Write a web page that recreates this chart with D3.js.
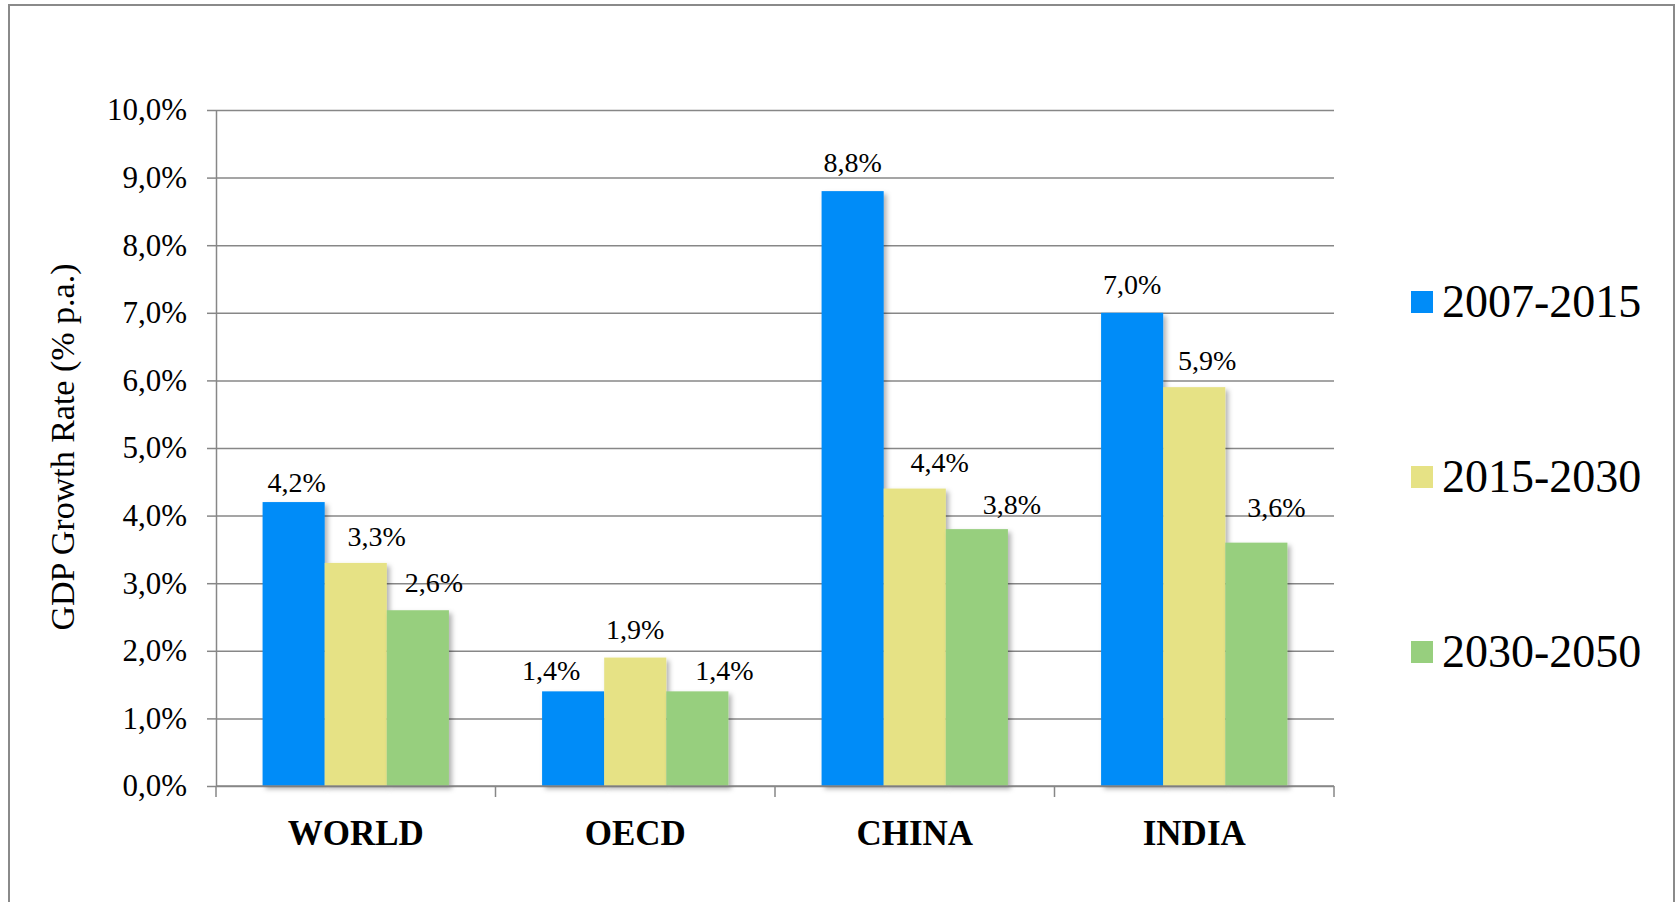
<!DOCTYPE html>
<html>
<head>
<meta charset="utf-8">
<script src="https://cdn.jsdelivr.net/npm/d3@7"></script>
<style>
  html, body { margin: 0; padding: 0; background: #fff; }
  svg { display: block; }
  text { font-family: "Liberation Serif", "DejaVu Serif", serif; fill: #000; }
</style>
</head>
<body>
<svg id="chart" width="1677" height="902"></svg>
<script>
// ---- data ----
const categories = ["WORLD", "OECD", "CHINA", "INDIA"];
const seriesNames = ["2007-2015", "2015-2030", "2030-2050"];
const values2007_2015 = [4.2, 1.4, 8.8, 7.0];
const values2015_2030 = [3.3, 1.9, 4.4, 5.9];
const values2030_2050 = [2.6, 1.4, 3.8, 3.6];
const yTicks = [0, 1, 2, 3, 4, 5, 6, 7, 8, 9, 10];
const yTitle = "GDP Growth Rate (% p.a.)";

// ---- layout / style (not data) ----
const seriesColors = ["#008cf8", "#e6e285", "#97cf7e"];
// manual label nudges as placed in the original slide (px)
const labelNudgeX = [[3, -22, 0, 0], [21, 0, 25, 13], [16, 27, 35, 20]];
const labelGap = [[19, 20, 28, 28], [26, 28, 26, 26], [27, 20, 24, 35]];

const seriesValues = [values2007_2015, values2015_2030, values2030_2050];
const fmt = v => v.toFixed(1).replace(".", ",") + "%";

const svg = d3.select("#chart");
const plot = { left: 216, right: 1334, top: 110, bottom: 786 };

// outer frame
svg.append("rect")
  .attr("x", 9).attr("y", 5).attr("width", 1665).attr("height", 920)
  .attr("fill", "none").attr("stroke", "#8a8a8a").attr("stroke-width", 2);

const defs = svg.append("defs");
const f = defs.append("filter").attr("id", "shadow")
  .attr("x", "-20%").attr("y", "-5%").attr("width", "150%").attr("height", "115%");
f.append("feDropShadow").attr("dx", 3).attr("dy", 3).attr("stdDeviation", 2.5)
  .attr("flood-color", "#000").attr("flood-opacity", 0.3);

const y = d3.scaleLinear().domain([0, 10]).range([plot.bottom, plot.top]);
const x = d3.scaleBand().domain(categories).range([plot.left, plot.right]).padding(0);
const xs = d3.scaleBand().domain(seriesNames).range([0, x.bandwidth()])
  .paddingInner(0).paddingOuter(0.75);

// gridlines
svg.append("g")
  .attr("transform", `translate(${plot.left},0)`)
  .call(d3.axisLeft(y).tickValues(yTicks).tickSize(-(plot.right - plot.left)).tickFormat(""))
  .call(g => g.select(".domain").remove())
  .call(g => g.selectAll("line").attr("stroke", "#878787").attr("stroke-width", 1.5));

// y axis
svg.append("g")
  .attr("transform", `translate(${plot.left},0)`)
  .call(d3.axisLeft(y).tickValues(yTicks).tickSize(9).tickSizeOuter(0).tickPadding(20).tickFormat(fmt))
  .call(g => g.select(".domain").attr("stroke", "#878787").attr("stroke-width", 1.5))
  .call(g => g.selectAll(".tick line").attr("stroke", "#878787").attr("stroke-width", 1.5))
  .call(g => g.selectAll(".tick text")
    .attr("font-family", "Liberation Serif").attr("font-size", 31).attr("fill", "#000"));

// bars
seriesNames.forEach((s, si) => {
  const g = svg.append("g");
  g.selectAll("rect")
    .data(categories.map((c, ci) => ({ c, v: seriesValues[si][ci] })))
    .join("rect")
    .attr("x", d => x(d.c) + xs(s))
    .attr("y", d => y(d.v))
    .attr("width", xs.bandwidth())
    .attr("height", d => y(0) - y(d.v))
    .attr("fill", seriesColors[si])
    .attr("filter", "url(#shadow)");
});

// x axis
svg.append("g")
  .attr("transform", `translate(0,${plot.bottom})`)
  .call(g => g.append("line").attr("x1", plot.left).attr("x2", plot.right)
    .attr("stroke", "#878787").attr("stroke-width", 1.5))
  .call(g => g.selectAll(".sep")
    .data(d3.range(categories.length + 1))
    .join("line")
    .attr("x1", i => plot.left + i * x.step()).attr("x2", i => plot.left + i * x.step())
    .attr("y1", 0).attr("y2", 11)
    .attr("stroke", "#878787").attr("stroke-width", 1.5));

svg.append("g").selectAll("text")
  .data(categories).join("text")
  .attr("x", d => x(d) + x.bandwidth() / 2)
  .attr("y", 845)
  .attr("text-anchor", "middle")
  .attr("font-weight", "bold")
  .attr("font-size", 35)
  .text(d => d);

// data labels
seriesNames.forEach((s, si) => {
  svg.append("g").selectAll("text")
    .data(categories.map((c, ci) => ({ c, ci, v: seriesValues[si][ci] })))
    .join("text")
    .attr("x", d => x(d.c) + xs(s) + xs.bandwidth() / 2 + labelNudgeX[si][d.ci])
    .attr("y", d => y(d.v) - labelGap[si][d.ci] + 9)
    .attr("text-anchor", "middle")
    .attr("font-size", 28)
    .text(d => fmt(d.v));
});

// y title
svg.append("text")
  .attr("transform", `translate(74,447) rotate(-90)`)
  .attr("text-anchor", "middle")
  .attr("font-size", 34)
  .text(yTitle);

// legend
const legendY = [302, 477, 652];
const lg = svg.append("g");
seriesNames.forEach((s, si) => {
  lg.append("rect").attr("x", 1411).attr("y", legendY[si] - 11)
    .attr("width", 22).attr("height", 22).attr("fill", seriesColors[si]);
  lg.append("text").attr("x", 1442).attr("y", legendY[si] + 15)
    .attr("font-size", 46).text(s);
});
</script>
</body>
</html>
